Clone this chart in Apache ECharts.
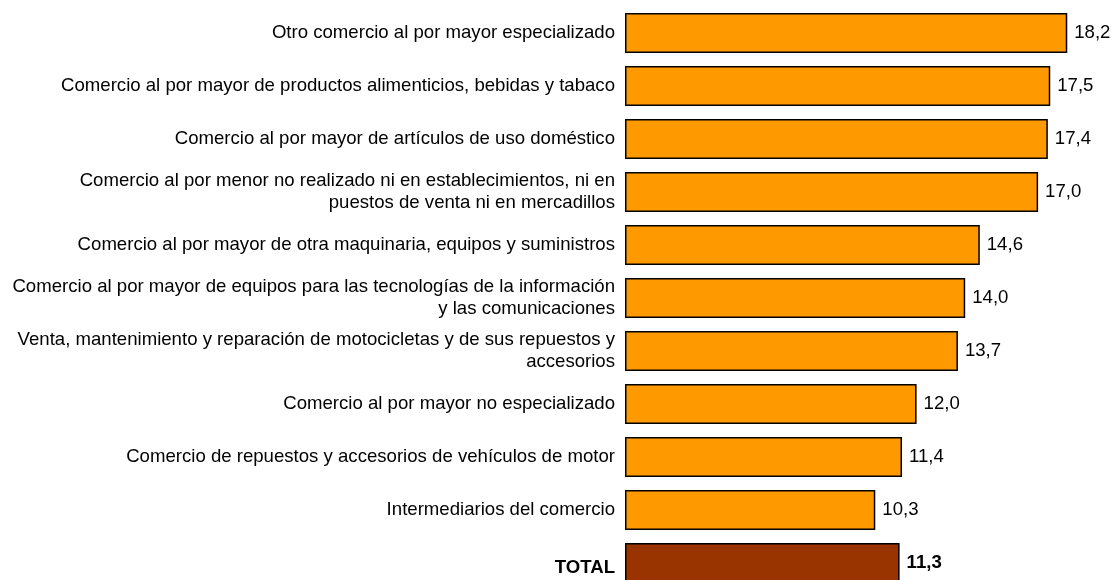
<!DOCTYPE html>
<html><head><meta charset="utf-8">
<script src="https://cdn.jsdelivr.net/npm/echarts@6/dist/echarts.min.js"></script>
<style>html,body{margin:0;padding:0;overflow:hidden;background:#fff;width:1112px;height:580px}#c{width:1112px;height:600px}</style>
</head><body><div id="c"></div>
<script>
const categories = [
  "Otro comercio al por mayor especializado",
  "Comercio al por mayor de productos alimenticios, bebidas y tabaco",
  "Comercio al por mayor de artículos de uso doméstico",
  "Comercio al por menor no realizado ni en establecimientos, ni en\npuestos de venta ni en mercadillos",
  "Comercio al por mayor de otra maquinaria, equipos y suministros",
  "Comercio al por mayor de equipos para las tecnologías de la información\ny las comunicaciones",
  "Venta, mantenimiento y reparación de motocicletas y de sus repuestos y\naccesorios",
  "Comercio al por mayor no especializado",
  "Comercio de repuestos y accesorios de vehículos de motor",
  "Intermediarios del comercio",
  "TOTAL"
];
const values = [18.2, 17.5, 17.4, 17.0, 14.6, 14.0, 13.7, 12.0, 11.4, 10.3, 11.3];
const totalLabel = "TOTAL";

const chart = echarts.init(document.getElementById('c'), null, {renderer:'canvas'});
const font = '"Liberation Sans", Arial, sans-serif';
const fs = 18.6;
chart.setOption({
  animation: false,
  grid: {left: 625, right: 1, top: 6.5, bottom: 10.5, containLabel: false},
  xAxis: {type: 'value', min: 0, max: 20, show: false},
  yAxis: {
    type: 'category', data: categories, inverse: true,
    axisLine: {show: false}, axisTick: {show: false},
    axisLabel: {
      margin: 10, fontFamily: font, fontSize: fs, color: '#000', lineHeight: 22, align: 'right',
      formatter: v => v === totalLabel ? '{b|' + v + '}' : v,
      rich: {b: {fontWeight: 'bold', fontSize: fs, fontFamily: font, color: '#000', padding: [10, 0, 0, 0]}}
    }
  },
  series: [{
    type: 'bar', barWidth: 40,
    data: values.map((v, i) => ({
      value: v,
      itemStyle: {color: categories[i] === totalLabel ? '#993300' : '#FF9900'},
      label: {fontWeight: categories[i] === totalLabel ? 'bold' : 'normal'}
    })),
    itemStyle: {borderColor: '#000', borderWidth: 1.5},
    label: {
      show: true, position: 'right', distance: 7, fontFamily: font, fontSize: fs, color: '#000',
      formatter: p => p.value.toFixed(1).replace('.', ',')
    }
  }]
});
</script></body></html>
